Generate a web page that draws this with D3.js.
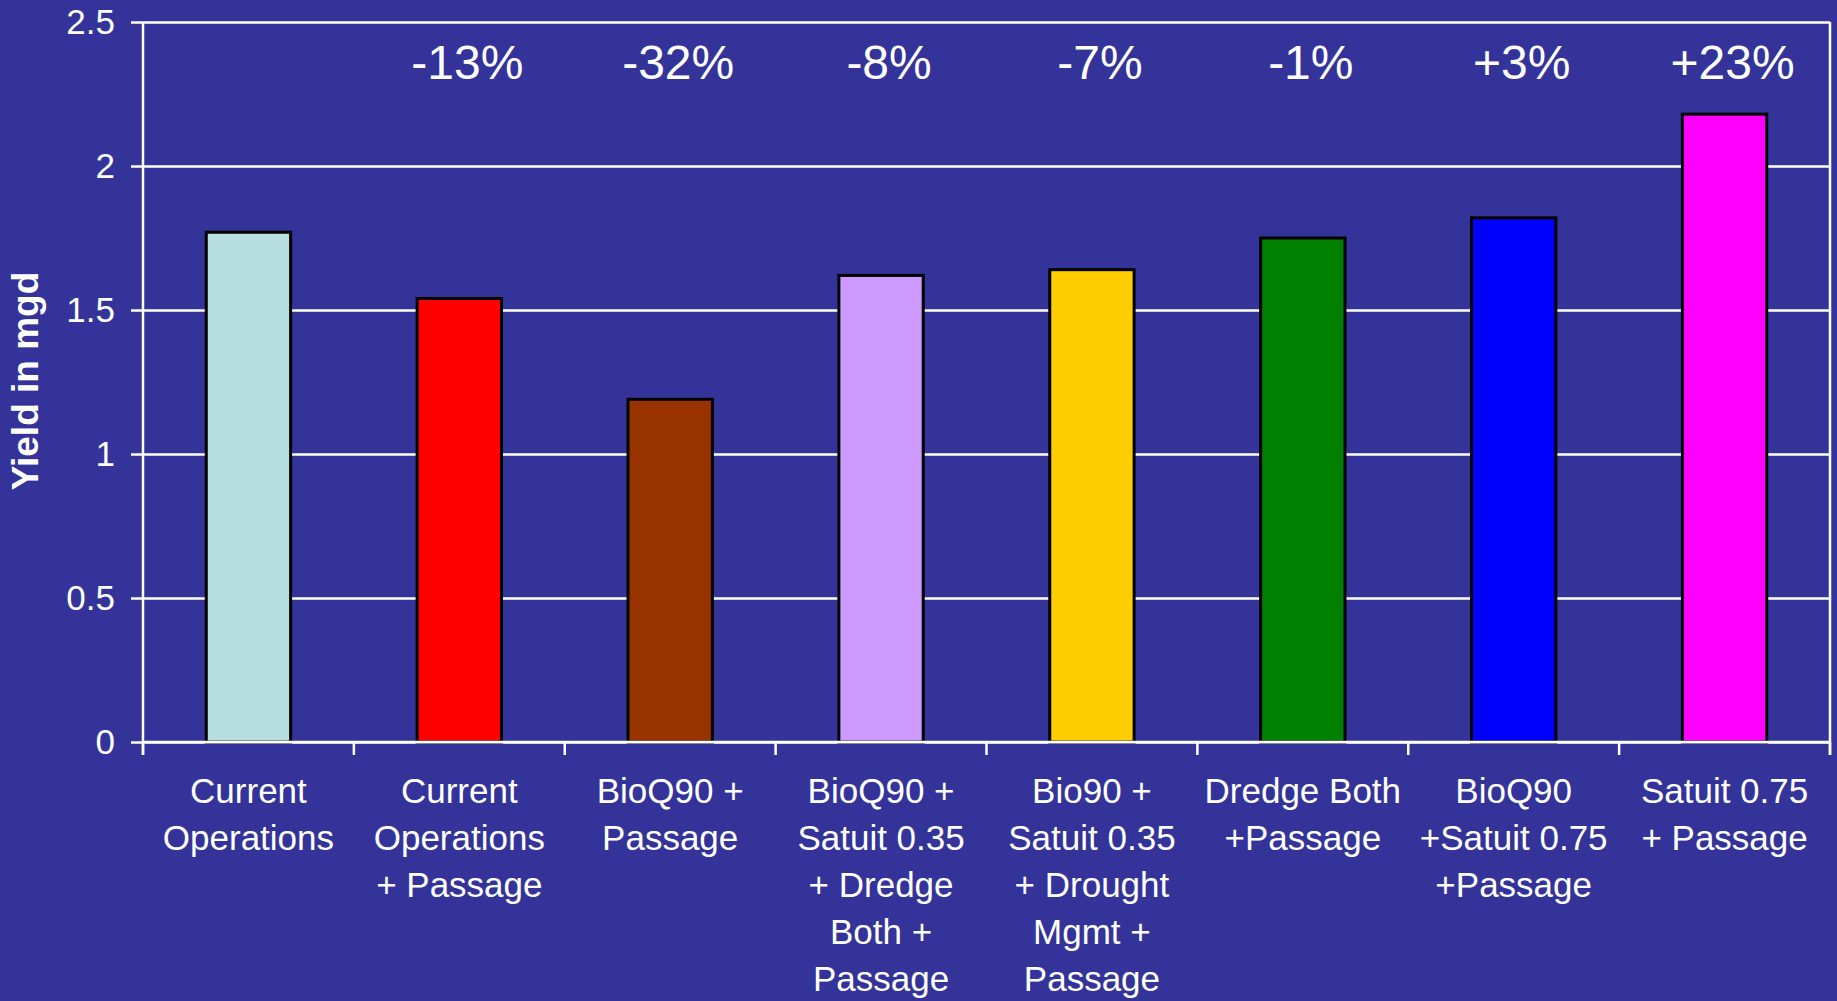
<!DOCTYPE html>
<html>
<head>
<meta charset="utf-8">
<script src="https://cdn.jsdelivr.net/npm/d3@7"></script>
<style>
  body { margin: 0; background: #333399; }
  svg { display: block; }
  text { font-family: "Liberation Sans", Arial, sans-serif; fill: #ffffff; }
</style>
</head>
<body>
<svg></svg>
<script>
// chart data
var scenarios = [
  ["Current", "Operations"],
  ["Current", "Operations", "+ Passage"],
  ["BioQ90 +", "Passage"],
  ["BioQ90 +", "Satuit 0.35", "+ Dredge", "Both +", "Passage"],
  ["Bio90 +", "Satuit 0.35", "+ Drought", "Mgmt +", "Passage"],
  ["Dredge Both", "+Passage"],
  ["BioQ90", "+Satuit 0.75", "+Passage"],
  ["Satuit 0.75", "+ Passage"]
];
var yields = [1.77, 1.54, 1.19, 1.62, 1.64, 1.75, 1.82, 2.18];
var changes = ["", "-13%", "-32%", "-8%", "-7%", "-1%", "+3%", "+23%"];
var barColors = ["#b8dfe0", "#ff0000", "#993300", "#cc99ff", "#ffcc00", "#008000", "#0000ff", "#ff00ff"];
var yTicks = [0, 0.5, 1, 1.5, 2, 2.5];

var screen = {width: 1837, height: 1001};
var plot = {left: 143, right: 1830, top: 22, bottom: 742};

var svg = d3.select("svg")
    .attr("width", screen.width)
    .attr("height", screen.height);

svg.append("rect")
    .attr("width", screen.width)
    .attr("height", screen.height)
    .attr("fill", "#333399");

var idx = d3.range(yields.length);

var xScale = d3.scaleBand()
    .domain(idx)
    .range([plot.left, plot.right])
    .paddingInner(0.6)
    .paddingOuter(0.3);

var yScale = d3.scaleLinear()
    .domain([0, 2.5])
    .range([plot.bottom, plot.top]);

// gridlines + y axis
var yAxis = d3.axisLeft(yScale)
    .tickValues(yTicks)
    .tickFormat(function(d){ return d3.format("")(d); })
    .tickSize(-(plot.right - plot.left))
    .tickPadding(28);

var gy = svg.append("g")
    .attr("transform", "translate(" + plot.left + ",0)")
    .call(yAxis);
gy.select(".domain").remove();
gy.selectAll(".tick line")
    .attr("x1", -12)
    .attr("stroke", "#ffffff")
    .attr("stroke-width", 2.5);
gy.selectAll(".tick text")
    .attr("font-size", 35)
    .attr("fill", "#ffffff")
    .attr("stroke", "none");

// left and right frame lines
svg.append("line")
    .attr("x1", plot.left).attr("x2", plot.left)
    .attr("y1", plot.top).attr("y2", plot.bottom + 13)
    .attr("stroke", "#ffffff").attr("stroke-width", 2.5);
svg.append("line")
    .attr("x1", plot.right).attr("x2", plot.right)
    .attr("y1", plot.top).attr("y2", plot.bottom + 13)
    .attr("stroke", "#ffffff").attr("stroke-width", 2.5);

// x category boundary ticks
var step = xScale.step();
svg.append("g")
    .selectAll("line")
    .data(d3.range(yields.length + 1))
    .enter()
    .append("line")
    .attr("x1", function(i){ return plot.left + i * step; })
    .attr("x2", function(i){ return plot.left + i * step; })
    .attr("y1", plot.bottom)
    .attr("y2", plot.bottom + 13)
    .attr("stroke", "#ffffff")
    .attr("stroke-width", 2.5);

// bars
svg.append("g")
    .selectAll("rect")
    .data(idx)
    .enter()
    .append("rect")
    .attr("x", function(i){ return xScale(i); })
    .attr("y", function(i){ return yScale(yields[i]); })
    .attr("width", xScale.bandwidth())
    .attr("height", function(i){ return yScale(0) - yScale(yields[i]); })
    .attr("fill", function(i){ return barColors[i]; })
    .attr("stroke", "#000000")
    .attr("stroke-width", 3);

// x axis baseline over the bars
svg.append("line")
    .attr("x1", plot.left).attr("x2", plot.right)
    .attr("y1", plot.bottom).attr("y2", plot.bottom)
    .attr("stroke", "#ffffff").attr("stroke-width", 2.5);

// percent change labels
svg.append("g")
    .selectAll("text")
    .data(idx)
    .enter()
    .append("text")
    .attr("x", function(i){ return xScale(i) + xScale.bandwidth() / 2 + 8; })
    .attr("y", 79)
    .attr("text-anchor", "middle")
    .attr("font-size", 48)
    .text(function(i){ return changes[i]; });

// category labels
var cats = svg.append("g")
    .selectAll("text")
    .data(idx)
    .enter()
    .append("text")
    .attr("text-anchor", "middle")
    .attr("font-size", 35);

cats.selectAll("tspan")
    .data(function(i){ return scenarios[i].map(function(s){ return {i: i, s: s}; }); })
    .enter()
    .append("tspan")
    .attr("x", function(d){ return xScale(d.i) + xScale.bandwidth() / 2; })
    .attr("y", function(d, k){ return 803 + k * 47; })
    .text(function(d){ return d.s; });

// y axis title
svg.append("text")
    .attr("transform", "translate(38," + 381 + ") rotate(-90)")
    .attr("text-anchor", "middle")
    .attr("font-size", 37)
    .attr("font-weight", "bold")
    .text("Yield in mgd");
</script>
</body>
</html>
